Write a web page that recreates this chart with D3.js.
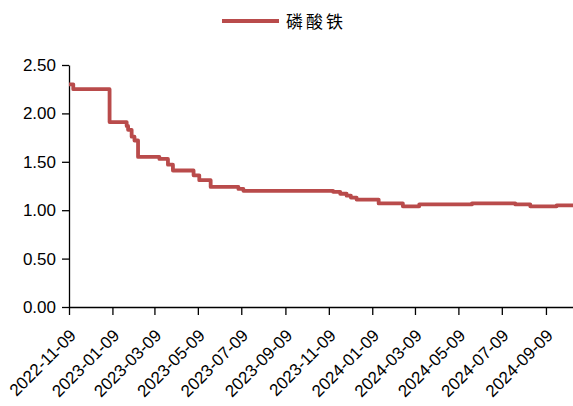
<!DOCTYPE html>
<html>
<head>
<meta charset="utf-8">
<script src="https://cdn.jsdelivr.net/npm/d3@7/dist/d3.min.js"></script>
<style>
  html, body { margin: 0; padding: 0; background: #fff; }
  svg { display: block; }
</style>
</head>
<body>
<svg id="chart" width="573" height="406"></svg>
<script>
// ---- data ----
const seriesName = "磷酸铁";
const dates = [
  "2022-11-09","2022-11-15","2023-01-05","2023-01-29","2023-01-31","2023-02-05",
  "2023-02-09","2023-02-14","2023-03-16","2023-03-28","2023-04-04","2023-05-03",
  "2023-05-11","2023-05-27","2023-07-05","2023-07-12","2023-11-15","2023-11-25",
  "2023-12-04","2023-12-10","2023-12-18","2024-01-18","2024-02-21","2024-03-15",
  "2024-05-28","2024-07-28","2024-08-18","2024-09-24","2024-10-17"
];
const values = [
  2.30, 2.25, 1.91, 1.87, 1.83, 1.76,
  1.72, 1.55, 1.53, 1.47, 1.41, 1.36,
  1.31, 1.24, 1.22, 1.20, 1.19, 1.17,
  1.15, 1.13, 1.11, 1.07, 1.04, 1.06,
  1.07, 1.06, 1.04, 1.05, 1.05
];
const xTickLabels = [
  "2022-11-09","2023-01-09","2023-03-09","2023-05-09","2023-07-09","2023-09-09",
  "2023-11-09","2024-01-09","2024-03-09","2024-05-09","2024-07-09","2024-09-09"
];
const yTicks = [0, 0.5, 1.0, 1.5, 2.0, 2.5];

// ---- chart ----
(function () {
const parse = d3.utcParse("%Y-%m-%d");
const data = dates.map((d, i) => ({ date: parse(d), value: values[i] }));

const svg = d3.select("#chart");
const mLeft = 69, mRight = 573, mTop = 65, mBottom = 307;
const color = "#b94b4b";

const x = d3.scaleUtc()
  .domain([parse("2022-11-09"), parse("2024-10-17")])
  .range([mLeft, mRight]);
const y = d3.scaleLinear().domain([0, 2.5]).range([mBottom, mTop]);

// y axis
const yAxis = svg.append("g")
  .attr("transform", `translate(${mLeft},0)`)
  .call(d3.axisLeft(y).tickValues(yTicks).tickFormat(d3.format(".2f")).tickSize(7).tickPadding(6).tickSizeOuter(0));
yAxis.selectAll("text")
  .attr("font-family", "Liberation Sans, Arial, sans-serif")
  .attr("font-size", 17).attr("fill", "#000");
yAxis.selectAll("line, path").attr("stroke", "#000").attr("stroke-width", 1.3);

// x axis
const xAxis = svg.append("g")
  .attr("transform", `translate(0,${mBottom})`)
  .call(d3.axisBottom(x).tickValues(xTickLabels.map(parse)).tickFormat(d3.utcFormat("%Y-%m-%d")).tickSize(8).tickSizeOuter(0));
xAxis.selectAll("line, path").attr("stroke", "#000").attr("stroke-width", 1.3);
xAxis.selectAll("text")
  .attr("font-family", "Liberation Sans, Arial, sans-serif")
  .attr("font-size", 17).attr("fill", "#000")
  .attr("text-anchor", "end")
  .attr("dy", null).attr("y", null)
  .attr("transform", "translate(7.5,29.5) rotate(-45)");

// line
const line = d3.line()
  .x(d => x(d.date))
  .y(d => y(d.value))
  .curve(d3.curveStepAfter);
svg.append("path")
  .datum(data)
  .attr("fill", "none")
  .attr("stroke", color)
  .attr("stroke-width", 3.8)
  .attr("stroke-linejoin", "round")
  .attr("d", line);

// legend
const lg = svg.append("g");
lg.append("line")
  .attr("x1", 222).attr("x2", 279).attr("y1", 21).attr("y2", 21)
  .attr("stroke", color).attr("stroke-width", 4);
lg.append("text")
  .attr("x", 286).attr("y", 28)
  .attr("font-family", "Noto Sans CJK SC, sans-serif")
  .attr("font-size", 17)
  .attr("letter-spacing", 3)
  .attr("fill", "#000")
  .text(seriesName);
})();
</script>
</body>
</html>
